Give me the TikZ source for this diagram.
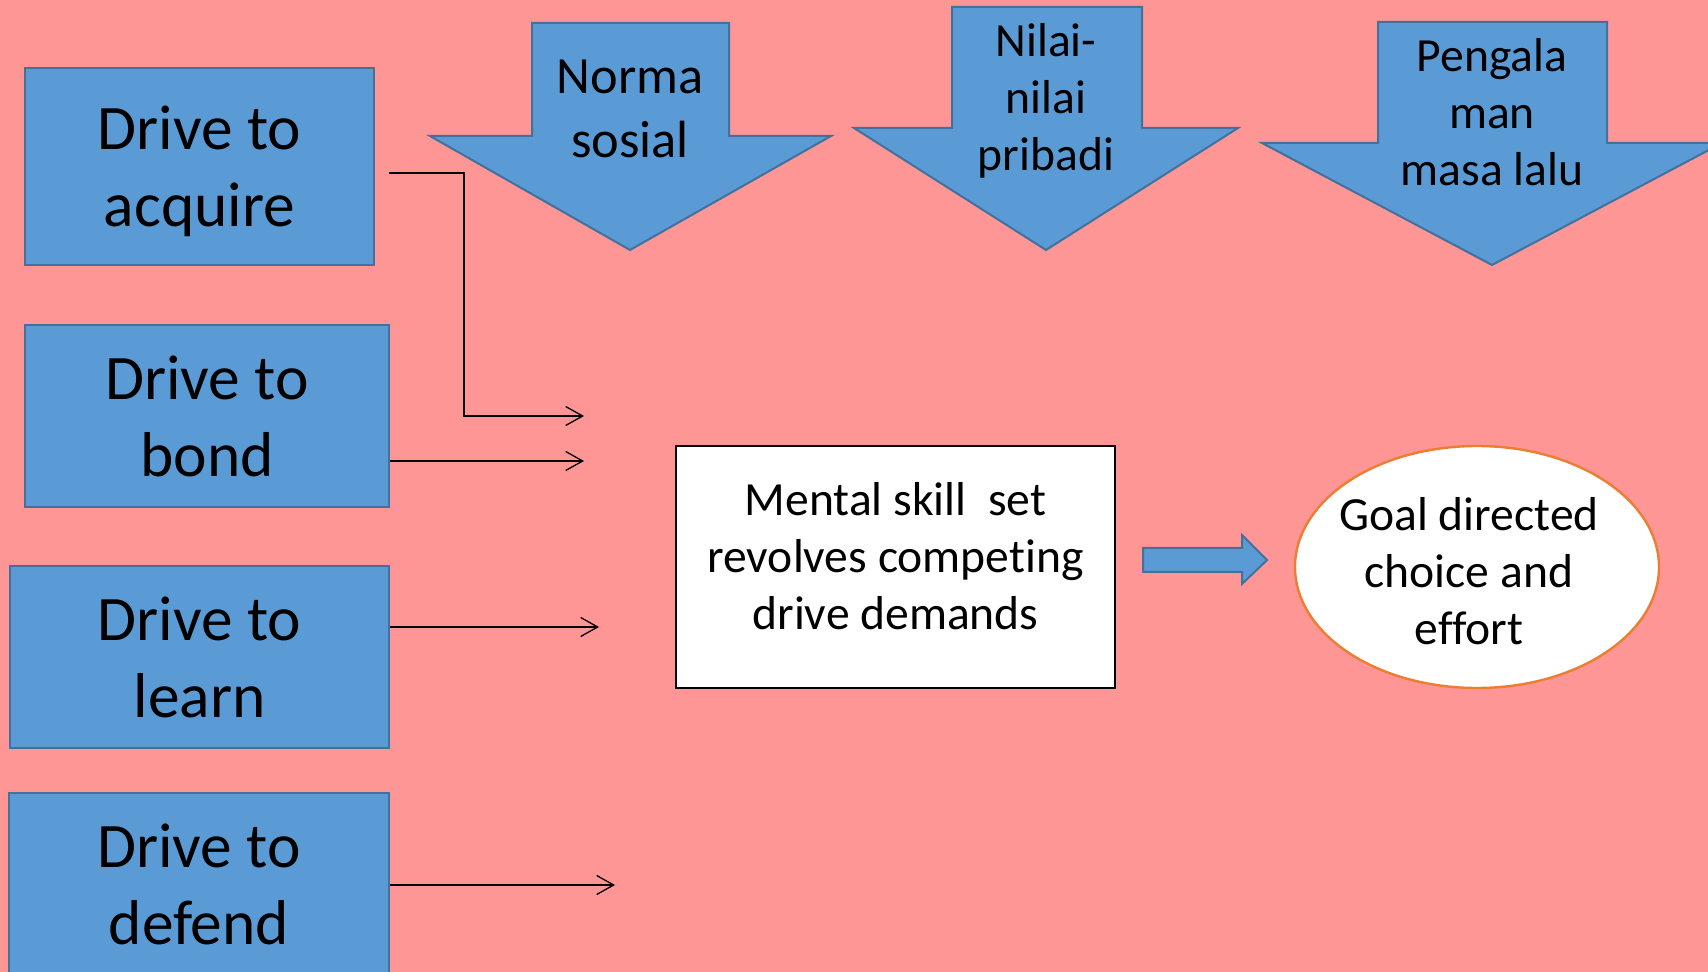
\documentclass[tikz,border=0pt]{standalone}
\usepackage{fontspec}
\setmainfont{Carlito}[Ligatures={NoCommon}]
\usetikzlibrary{arrows.meta,shapes.geometric,calc}
\definecolor{bgpink}{RGB}{255,150,150}
\definecolor{fillblue}{RGB}{91,155,213}
\definecolor{edgeblue}{RGB}{65,113,156}
\definecolor{edgeorange}{RGB}{237,125,49}
\tikzset{
  drivebox/.style={draw=edgeblue, fill=fillblue, line width=1pt, inner sep=0pt, rectangle},
  blueshape/.style={draw=edgeblue, fill=fillblue, line width=1pt, line join=miter},
  bigtext/.style={font=\fontsize{31.7}{38.5}\selectfont, align=center, anchor=base, inner sep=0pt},
  midtext/.style={font=\fontsize{23.8}{28.5}\selectfont, align=center, anchor=base, inner sep=0pt},
  normtext/.style={font=\fontsize{26.2}{32}\selectfont, align=center, anchor=base, inner sep=0pt},
  conn/.style={draw=black, line width=0.65pt, -{Straight Barb[length=8.5pt,width=9.5pt]}},
}
\begin{document}
\begin{tikzpicture}[x=0.5pt,y=-0.5pt]
\useasboundingbox (0,0) rectangle (1708,972);
\clip (0,0) rectangle (1708,972);
\fill[bgpink] (0,0) rectangle (1708,972);

% down arrows
\draw[blueshape] (532,23) -- (729,23) -- (729,136) -- (831,136) -- (630,250) -- (430,136) -- (532,136) -- cycle;
\draw[blueshape] (952,7) -- (1142,7) -- (1142,128) -- (1238,128) -- (1046,250) -- (854,128) -- (952,128) -- cycle;
\draw[blueshape] (1378,22) -- (1607,22) -- (1607,143) -- (1722,143) -- (1492,265) -- (1262,143) -- (1378,143) -- cycle;
\node[normtext] (norma) at (630,158) {Norma\\sosial};
\node[midtext] (nilai) at (1046,171) {Nilai-\\nilai\\pribadi};
\node[midtext] (peng) at (1492,186) {Pengala\\man\\masa lalu};

% drive boxes
\node[drivebox, minimum width=174.5pt, minimum height=98.5pt] (acq) at (199.5,166.5) {};
\node[drivebox, minimum width=182pt, minimum height=91pt] (bond) at (207,416) {};
\node[drivebox, minimum width=189.5pt, minimum height=91pt] (learn) at (199.5,657) {};
\node[drivebox, minimum width=190pt, minimum height=91pt] (defend) at (199,884) {};
\node[bigtext] (acqtext) at (199.5,227) {Drive to\\acquire};
\node[bigtext] (bondtext) at (207,476.5) {Drive to\\bond};
\node[bigtext] (learntext) at (199.5,717.5) {Drive to\\learn};
\node[bigtext] (defendtext) at (199,944.5) {Drive to\\defend};

% mental box and goal
\node[draw=black, fill=white, line width=1.4pt, minimum width=219.5pt, minimum height=121pt, inner sep=0pt] (mental) at (895.5,567) {};
\node[midtext] (mentaltext) at (895.5,630) {Mental skill\ \ set\\revolves competing\\drive demands};
\node[ellipse, draw=edgeorange, fill=white, line width=1.2pt, minimum width=182pt, minimum height=121pt, inner sep=0pt] (goal) at (1477,567) {};
\node[midtext] (goaltext) at (1469,645) {Goal directed\\choice and\\effort};

% block arrow
\draw[blueshape] (1143,548) -- (1242,548) -- (1242,535) -- (1267,560) -- (1242,584) -- (1242,572) -- (1143,572) -- cycle;

% connectors
\coordinate (acqout) at (389,173);
\coordinate (acqin) at (584,416);
\coordinate (bondin) at (584,461);
\coordinate (learnin) at (599,627);
\coordinate (defin) at (615,885);
\draw[conn] (acqout) -- ++(75,0) |- (acqin);
\draw[conn] (bond.east |- bondin) -- (bondin);
\draw[conn] (learn.east |- learnin) -- (learnin);
\draw[conn] (defend.east |- defin) -- (defin);
\end{tikzpicture}
\end{document}
